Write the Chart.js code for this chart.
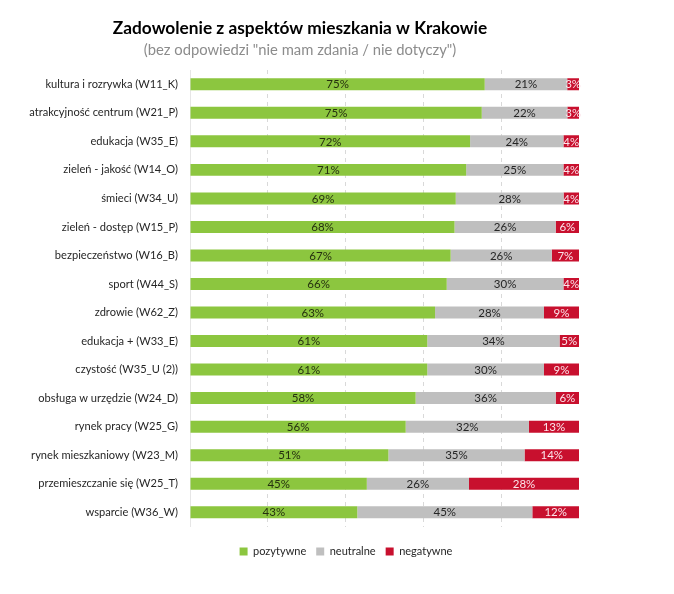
<!DOCTYPE html>
<html><head><meta charset="utf-8">
<script src="https://cdn.jsdelivr.net/npm/chart.js@4/dist/chart.umd.min.js"></script>
<style>html,body{margin:0;padding:0;background:#fff}</style>
</head><body>
<canvas id="c" width="674" height="594" style="display:block;width:674px;height:594px"></canvas>
<script>
const categories = [
  'kultura i rozrywka (W11_K)',
  'atrakcyjność centrum (W21_P)',
  'edukacja (W35_E)',
  'zieleń - jakość (W14_O)',
  'śmieci (W34_U)',
  'zieleń - dostęp (W15_P)',
  'bezpieczeństwo (W16_B)',
  'sport (W44_S)',
  'zdrowie (W62_Z)',
  'edukacja + (W33_E)',
  'czystość (W35_U (2))',
  'obsługa w urzędzie (W24_D)',
  'rynek pracy (W25_G)',
  'rynek mieszkaniowy (W23_M)',
  'przemieszczanie się (W25_T)',
  'wsparcie (W36_W)'
];
const positive = [75, 75, 72, 71, 69, 68, 67, 66, 63, 61, 61, 58, 56, 51, 45, 43];
const neutral  = [21, 22, 24, 25, 28, 26, 26, 30, 28, 34, 30, 36, 32, 35, 26, 45];
const negative = [3, 3, 4, 4, 4, 6, 7, 4, 9, 5, 9, 6, 13, 14, 28, 12];
const seriesNames = ['pozytywne', 'neutralne', 'negatywne'];
const xTicks = [0, 20, 40, 60, 80, 100];
const titleText = 'Zadowolenie z aspektów mieszkania w Krakowie';
const subtitleText = '(bez odpowiedzi "nie mam zdania / nie dotyczy")';

const totals = categories.map((_, i) => positive[i] + neutral[i] + negative[i]);
const share = arr => arr.map((v, i) => v / totals[i] * 100);

const FONT = 'Lato, "Open Sans", sans-serif';

const barLabels = {
  id: 'barLabels',
  afterDatasetsDraw(chart) {
    const ctx = chart.ctx;
    ctx.save();
    ctx.font = '11.5px ' + FONT;
    ctx.textAlign = 'center';
    ctx.textBaseline = 'middle';
    chart.data.datasets.forEach((ds, di) => {
      const meta = chart.getDatasetMeta(di);
      meta.data.forEach((bar, i) => {
        ctx.fillStyle = ds.labelColor;
        ctx.fillText(ds.rawValues[i] + '%', (bar.x + bar.base) / 2, bar.y + 0.5);
      });
    });
    ctx.restore();
  }
};

const legendShift = {
  id: 'legendShift',
  afterLayout(chart) {
    const lg = chart.legend;
    if (lg) { lg.left += 46; lg.right += 46; }
  }
};

new Chart(document.getElementById('c'), {
  type: 'bar',
  data: {
    labels: categories,
    datasets: [
      { label: seriesNames[0], data: share(positive), rawValues: positive, backgroundColor: '#8cc63f', labelColor: '#25300f' },
      { label: seriesNames[1], data: share(neutral), rawValues: neutral, backgroundColor: '#bfbfbf', labelColor: '#262626' },
      { label: seriesNames[2], data: share(negative), rawValues: negative, backgroundColor: '#c8102e', labelColor: '#fbe4ea' }
    ]
  },
  options: {
    indexAxis: 'y',
    responsive: false,
    animation: false,
    layout: { padding: { left: 21, right: 95, top: 0, bottom: 27 } },
    datasets: { bar: { barPercentage: 0.42, categoryPercentage: 1 } },
    scales: {
      x: {
        stacked: true, min: 0, max: 100,
        afterBuildTicks(scale) { scale.ticks = xTicks.map(v => ({ value: v })); },
        afterFit(scale) { scale.height = 9.5; },
        ticks: { display: false },
        grid: {
          drawTicks: false, tickLength: 0,
          color: ctx => (ctx.tick && (ctx.tick.value === 0 || ctx.tick.value === 100)) ? 'rgba(0,0,0,0)' : '#d9d9d9',
          lineWidth: 1
        },
        border: { display: false, dash: [4, 4] }
      },
      y: {
        stacked: true,
        afterFit(scale) { scale.width = 169; },
        ticks: { color: '#262626', font: { family: FONT, size: 11.1 }, padding: 12 },
        grid: { display: false, drawTicks: false },
        border: { display: true, color: '#e6e6e6' }
      }
    },
    plugins: {
      title: {
        display: true, text: titleText, color: '#000',
        font: { family: FONT, size: 17.3, weight: 'bold' },
        padding: { top: 18, bottom: 0 }
      },
      subtitle: {
        display: true, text: subtitleText, color: '#8c8c8c',
        font: { family: FONT, size: 14.8 },
        padding: { top: 3, bottom: 10.5 }
      },
      legend: {
        position: 'bottom',
        labels: {
          boxWidth: 8, boxHeight: 8, color: '#262626',
          font: { family: FONT, size: 11 }, padding: 10
        }
      },
      tooltip: { enabled: false }
    }
  },
  plugins: [barLabels, legendShift]
});
</script>
</body></html>
